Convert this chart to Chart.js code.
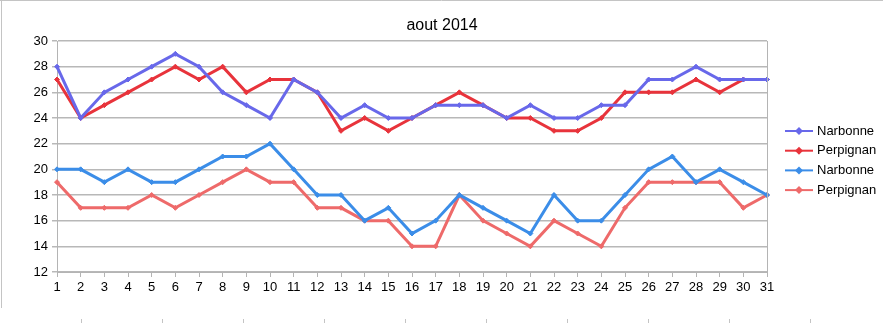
<!DOCTYPE html>
<html>
<head>
<meta charset="utf-8">
<title>aout 2014</title>
<script src="https://cdn.jsdelivr.net/npm/chart.js@4.4.0/dist/chart.umd.min.js"></script>
<style>
  html, body { margin: 0; padding: 0; background: #fff; }
  #wrap { width: 883px; height: 323px; position: relative; }
</style>
</head>
<body>
<div id="wrap"><canvas id="chart" width="883" height="323"></canvas></div>
<script>
/* -----------------------------------------
   données
----------------------------------------- */
const days = [];
for (let d = 1; d <= 31; d++) days.push(String(d));

const chartTitle = "aout 2014";

// maximales
const narbonneMax = [28, 24, 26, 27, 28, 29, 28, 26, 25, 24, 27, 26, 24, 25, 24, 24,
                     25, 25, 25, 24, 25, 24, 24, 25, 25, 27, 27, 28, 27, 27, 27];
const perpignanMax = [27, 24, 25, 26, 27, 28, 27, 28, 26, 27, 27, 26, 23, 24, 23, 24,
                      25, 26, 25, 24, 24, 23, 23, 24, 26, 26, 26, 27, 26, 27, 27];

// minimales
const narbonneMin = [20, 20, 19, 20, 19, 19, 20, 21, 21, 22, 20, 18, 18, 16, 17, 15,
                     16, 18, 17, 16, 15, 18, 16, 16, 18, 20, 21, 19, 20, 19, 18];
const perpignanMin = [19, 17, 17, 17, 18, 17, 18, 19, 20, 19, 19, 17, 17, 16, 16, 14,
                      14, 18, 16, 15, 14, 16, 15, 14, 17, 19, 19, 19, 19, 17, 18];

const seriesNames = ["Narbonne", "Perpignan", "Narbonne", "Perpignan"];
const seriesColors = ["#6868ea", "#e8333b", "#3b8de8", "#ee6a6a"];

const yMin = 12;
const yMax = 30;

/* -----------------------------------------
   décor : titre, légende, cadre
----------------------------------------- */
const FONT = "'Liberation Sans', Arial, sans-serif";

const decor = {
    id: "decor",
    afterDraw(chart) {
        const ctx = chart.ctx;
        const a = chart.chartArea;
        ctx.save();

        // bord droit de la zone de tracé
        ctx.strokeStyle = "#b4b4b4";
        ctx.lineWidth = 1;
        ctx.beginPath();
        ctx.moveTo(Math.round(a.right) + 0.5, a.top);
        ctx.lineTo(Math.round(a.right) + 0.5, a.bottom);
        ctx.stroke();

        // cadre de la feuille
        ctx.strokeStyle = "#c4c4c4";
        ctx.beginPath();
        ctx.moveTo(0, 0.5);
        ctx.lineTo(chart.width, 0.5);
        ctx.moveTo(1.5, 0);
        ctx.lineTo(1.5, 308);
        for (let x = 81; x < chart.width; x += 81) {
            ctx.moveTo(x + 0.5, 319);
            ctx.lineTo(x + 0.5, chart.height);
        }
        ctx.stroke();

        // titre
        ctx.fillStyle = "#000";
        ctx.font = "16px " + FONT;
        ctx.textAlign = "center";
        ctx.textBaseline = "middle";
        ctx.fillText(chartTitle, 442, 26);

        // légende
        ctx.font = "13px " + FONT;
        ctx.textAlign = "left";
        chart.data.datasets.forEach((ds, i) => {
            const y = 131 + i * 19.7;
            ctx.strokeStyle = ds.borderColor;
            ctx.fillStyle = ds.borderColor;
            ctx.lineWidth = 2;
            ctx.beginPath();
            ctx.moveTo(785, y);
            ctx.lineTo(813, y);
            ctx.stroke();
            ctx.beginPath();
            ctx.moveTo(799, y - 4);
            ctx.lineTo(803, y);
            ctx.lineTo(799, y + 4);
            ctx.lineTo(795, y);
            ctx.closePath();
            ctx.fill();
            ctx.fillStyle = "#000";
            ctx.fillText(ds.label, 817, y);
        });

        ctx.restore();
    }
};

/* -----------------------------------------
   graphique
----------------------------------------- */
const allSeries = [narbonneMax, perpignanMax, narbonneMin, perpignanMin];

new Chart(document.getElementById("chart"), {
    type: "line",
    data: {
        labels: days,
        datasets: allSeries.map((data, i) => ({
            label: seriesNames[i],
            data: data,
            borderColor: seriesColors[i],
            backgroundColor: seriesColors[i],
            borderWidth: 3,
            pointStyle: "rectRot",
            pointRadius: 2.5,
            pointBorderWidth: 1,
            tension: 0,
            fill: false
        }))
    },
    options: {
        responsive: false,
        animation: false,
        events: [],
        layout: { padding: { top: 41, left: 0, right: 116, bottom: 0 } },
        plugins: {
            legend: { display: false },
            title: { display: false },
            tooltip: { enabled: false }
        },
        scales: {
            x: {
                offset: false,
                grid: {
                    drawOnChartArea: false,
                    drawTicks: true,
                    tickLength: 5,
                    color: "#b4b4b4"
                },
                border: { color: "#b4b4b4", width: 1 },
                ticks: {
                    color: "#000",
                    font: { family: FONT, size: 13 },
                    padding: 3,
                    maxRotation: 0,
                    autoSkip: false
                },
                afterFit(scale) { scale.height = 51; }
            },
            y: {
                min: yMin,
                max: yMax,
                grid: {
                    color: "#b8b8b8",
                    lineWidth: 1.5,
                    tickLength: 5
                },
                border: { color: "#b4b4b4", width: 1 },
                ticks: {
                    stepSize: 1,
                    color: "#000",
                    font: { family: FONT, size: 13 },
                    padding: 4,
                    callback: v => (v % 2 === 0 ? String(v) : "")
                },
                afterFit(scale) { scale.width = 57; }
            }
        }
    },
    plugins: [decor]
});
</script>
</body>
</html>
